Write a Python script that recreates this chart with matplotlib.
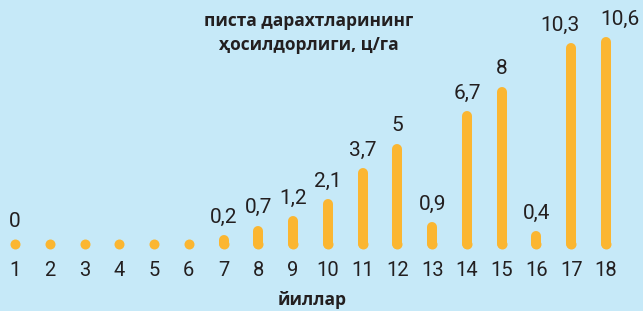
import matplotlib
matplotlib.use("Agg")
import matplotlib.pyplot as plt

years = list(range(1, 19))
values = [0, 0, 0, 0, 0, 0, 0.2, 0.7, 1.2, 2.1, 3.7, 5, 0.9, 6.7, 8, 0.4, 10.3, 10.6]
labels = ["0", "", "", "", "", "", "0,2", "0,7", "1,2", "2,1", "3,7", "5", "0,9", "6,7", "8", "0,4", "10,3", "10,6"]
title = "писта дарахтларининг\nҳосилдорлиги, ц/га"
xlabel = "йиллар"

BG = "#c6e9f8"
BAR = "#fbb631"
TXT = "#231f20"

W, H = 643, 311
fig = plt.figure(figsize=(W / 100, H / 100), dpi=100, facecolor=BG)
ax = fig.add_axes([0, 0, 1, 1])
ax.set_facecolor(BG)

pxu = (606 - 15) / 17.0
k = 19.06
base = 244
ax.set_xlim(1 - 15 / pxu, 18 + (W - 606) / pxu)
ax.set_ylim(-(H - base) / k, base / k)
ax.axis("off")

lw_pt = 10 * 72 / 100
for x, v in zip(years, values):
    if v > 0:
        ax.plot([x, x], [0, v], color=BAR, lw=lw_pt, solid_capstyle="round")
ax.plot(years, [0] * len(years), "o", color=BAR, markersize=lw_pt, markeredgewidth=0)

# horizontal nudges (pixels) for the crowded labels at the right
nudge = {17: -11, 18: 14}
for x, v, lab in zip(years, values, labels):
    if lab:
        dx = nudge.get(x, 0) * 0.72
        ax.annotate(lab, (x, v), xytext=(dx, 3.8 + 8 * 0.72), textcoords="offset points",
                    ha="center", va="bottom", fontsize=15, family="Roboto", color=TXT)

for x in years:
    ax.annotate(str(x), (x, 0), xytext=(0, -19), textcoords="offset points",
                ha="center", va="center", fontsize=14.5, family="Roboto", color=TXT)

fig.text(309 / W, 1 - 33 / H, title, ha="center", va="center", fontsize=12.5,
         family="Open Sans", fontweight="bold", color=TXT, linespacing=1.45)
fig.text(312 / W, 1 - 300 / H, xlabel, ha="center", va="center", fontsize=12.5,
         family="Open Sans", fontweight="bold", color=TXT)

fig.savefig("out.png", dpi=100, facecolor=BG)
